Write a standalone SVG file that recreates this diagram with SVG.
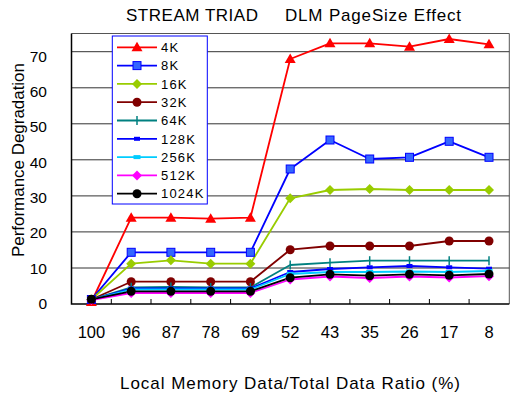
<svg xmlns="http://www.w3.org/2000/svg" width="510" height="399" viewBox="0 0 510 399">
<style>
text{font-family:"Liberation Sans",Arial,sans-serif;fill:#000}
.t{font-size:17px}
.yl{font-size:15.5px;text-anchor:end}
.xl{font-size:16.5px;text-anchor:middle}
.lg{font-size:13px;letter-spacing:1.2px}
.grid{stroke:#333;stroke-width:1}
.s{fill:none;stroke-width:1.8;stroke-linejoin:round}
</style>
<defs>
<polygon id="tri" points="0,-5.5 5.5,4 -5.5,4" fill="#f00"/>
<rect id="sq" x="-4" y="-4" width="8" height="8" fill="#3366ff" stroke="#0000ff" stroke-width="1"/>
<polygon id="dg" points="0,-5 5,0 0,5 -5,0" fill="#99cc00"/>
<circle id="cr" r="4.5" fill="#800000"/>
<path id="pl" d="M0,-4.5V4.5" stroke="#008080" stroke-width="1.5"/>
<rect id="b128" x="-3" y="-2" width="6" height="4" fill="#0000ff"/>
<rect id="b256" x="-3.5" y="-2" width="7" height="4" fill="#00ccff"/>
<polygon id="dm" points="0,-5 5,0 0,5 -5,0" fill="#ff00ff"/>
<circle id="cb" r="4.5" fill="#000"/>
</defs>
<rect width="510" height="399" fill="#fff"/>
<g id="title">
<text class="t" x="126" y="20.7" textLength="132" lengthAdjust="spacing">STREAM TRIAD</text>
<text class="t" x="285" y="20.7" textLength="176" lengthAdjust="spacing">DLM PageSize Effect</text>
</g>
<g id="plot-frame">
<path d="M71.5,33.5H509.3V304" fill="none" stroke="#555" stroke-width="1"/>
<g class="grid">
<path d="M71.5,268H509.3M71.5,231.9H509.3M71.5,195.9H509.3M71.5,159.8H509.3M71.5,123.8H509.3M71.5,87.8H509.3M71.5,51.7H509.3"/>
</g>
<path d="M71.5,33.5V304H509.3" fill="none" stroke="#000" stroke-width="1.5"/>
<path d="M111.3,304v-5M151,304v-5M190.8,304v-5M230.6,304v-5M270.3,304v-5M310.1,304v-5M349.9,304v-5M389.6,304v-5M429.4,304v-5M469.1,304v-5" stroke="#000" stroke-width="1"/>
</g>
<g id="y-labels">
<text class="yl" x="47" y="309">0</text>
<text class="yl" x="47" y="273.7">10</text>
<text class="yl" x="47" y="238.3">20</text>
<text class="yl" x="47" y="203">30</text>
<text class="yl" x="47" y="167.7">40</text>
<text class="yl" x="47" y="132.3">50</text>
<text class="yl" x="47" y="97">60</text>
<text class="yl" x="47" y="61.7">70</text>
</g>
<g id="x-labels">
<text class="xl" x="91.4" y="338">100</text>
<text class="xl" x="131.2" y="338">96</text>
<text class="xl" x="170.9" y="338">87</text>
<text class="xl" x="210.7" y="338">78</text>
<text class="xl" x="250.4" y="338">69</text>
<text class="xl" x="290.2" y="338">52</text>
<text class="xl" x="330" y="338">43</text>
<text class="xl" x="369.7" y="338">35</text>
<text class="xl" x="409.5" y="338">26</text>
<text class="xl" x="449.2" y="338">17</text>
<text class="xl" x="489" y="338">8</text>
</g>
<g id="axis-titles">
<text class="t" x="120" y="389.3" textLength="340" lengthAdjust="spacing">Local Memory Data/Total Data Ratio (%)</text>
<text class="t" font-size="16.5" transform="translate(24,160) rotate(-90)" x="-97" y="0" textLength="194" lengthAdjust="spacing">Performance Degradation</text>
</g>
<g id="connectors">
<polyline id="s4k" class="s" stroke="#ff0000" points="91.4,302 131.2,217.7 170.9,217.7 210.7,218.7 250.4,217.7 290.2,59 330,43.3 369.7,43.3 409.5,46.7 449.2,39 489,44.3"/>
<polyline id="s8k" class="s" stroke="#0000ff" points="91.4,299.5 131.2,252.3 170.9,252.3 210.7,252.3 250.4,252.3 290.2,169 330,140 369.7,159 409.5,157.3 449.2,141.3 489,157.3"/>
<polyline id="s16k" class="s" stroke="#99cc00" points="91.4,299.5 131.2,263.7 170.9,260.3 210.7,263.7 250.4,263.7 290.2,198.3 330,190 369.7,189 409.5,190 449.2,190 489,190"/>
<polyline id="s32k" class="s" stroke="#800000" points="91.4,299.5 131.2,281.7 170.9,281.7 210.7,281.7 250.4,281.7 290.2,249.7 330,246 369.7,246 409.5,246 449.2,241 489,241"/>
<polyline id="s64k" class="s" stroke="#008080" points="91.4,299.5 131.2,287.3 170.9,287 210.7,287.5 250.4,287.5 290.2,265 330,262.7 369.7,260.7 409.5,260.7 449.2,260.7 489,260.7"/>
<polyline id="s128k" class="s" stroke="#0000ff" points="91.4,299.5 131.2,288.5 170.9,288.5 210.7,288.5 250.4,288.5 290.2,272 330,269 369.7,267.3 409.5,266 449.2,267.3 489,268.7"/>
<polyline id="s256k" class="s" stroke="#00ccff" points="91.4,299.5 131.2,289.5 170.9,289.5 210.7,289.5 250.4,289.5 290.2,274 330,272 369.7,272 409.5,271.5 449.2,272 489,271"/>
<polyline id="s512k" class="s" stroke="#ff00ff" points="91.4,300 131.2,293 170.9,293 210.7,293 250.4,293 290.2,279.5 330,276.5 369.7,278 409.5,276.5 449.2,277.5 489,276.2"/>
<polyline id="s1024k" class="s" stroke="#000000" points="91.4,299.3 131.2,291.3 170.9,291.3 210.7,291.3 250.4,291.3 290.2,277.7 330,274.3 369.7,275.7 409.5,274.3 449.2,275.3 489,274"/>
</g>
<g id="markers">
<g id="m4k"><use href="#tri" x="91.4" y="302"/><use href="#tri" x="131.2" y="217.7"/><use href="#tri" x="170.9" y="217.7"/><use href="#tri" x="210.7" y="218.7"/><use href="#tri" x="250.4" y="217.7"/><use href="#tri" x="290.2" y="59"/><use href="#tri" x="330" y="43.3"/><use href="#tri" x="369.7" y="43.3"/><use href="#tri" x="409.5" y="46.7"/><use href="#tri" x="449.2" y="39"/><use href="#tri" x="489" y="44.3"/></g>
<g id="m8k"><use href="#sq" x="91.4" y="299.5"/><use href="#sq" x="131.2" y="252.3"/><use href="#sq" x="170.9" y="252.3"/><use href="#sq" x="210.7" y="252.3"/><use href="#sq" x="250.4" y="252.3"/><use href="#sq" x="290.2" y="169"/><use href="#sq" x="330" y="140"/><use href="#sq" x="369.7" y="159"/><use href="#sq" x="409.5" y="157.3"/><use href="#sq" x="449.2" y="141.3"/><use href="#sq" x="489" y="157.3"/></g>
<g id="m16k"><use href="#dg" x="91.4" y="299.5"/><use href="#dg" x="131.2" y="263.7"/><use href="#dg" x="170.9" y="260.3"/><use href="#dg" x="210.7" y="263.7"/><use href="#dg" x="250.4" y="263.7"/><use href="#dg" x="290.2" y="198.3"/><use href="#dg" x="330" y="190"/><use href="#dg" x="369.7" y="189"/><use href="#dg" x="409.5" y="190"/><use href="#dg" x="449.2" y="190"/><use href="#dg" x="489" y="190"/></g>
<g id="m32k"><use href="#cr" x="91.4" y="299.5"/><use href="#cr" x="131.2" y="281.7"/><use href="#cr" x="170.9" y="281.7"/><use href="#cr" x="210.7" y="281.7"/><use href="#cr" x="250.4" y="281.7"/><use href="#cr" x="290.2" y="249.7"/><use href="#cr" x="330" y="246"/><use href="#cr" x="369.7" y="246"/><use href="#cr" x="409.5" y="246"/><use href="#cr" x="449.2" y="241"/><use href="#cr" x="489" y="241"/></g>
<g id="m64k"><use href="#pl" x="91.4" y="299.5"/><use href="#pl" x="131.2" y="287.3"/><use href="#pl" x="170.9" y="287"/><use href="#pl" x="210.7" y="287.5"/><use href="#pl" x="250.4" y="287.5"/><use href="#pl" x="290.2" y="265"/><use href="#pl" x="330" y="262.7"/><use href="#pl" x="369.7" y="260.7"/><use href="#pl" x="409.5" y="260.7"/><use href="#pl" x="449.2" y="260.7"/><use href="#pl" x="489" y="260.7"/></g>
<g id="m128k"><use href="#b128" x="131.2" y="288.5"/><use href="#b128" x="170.9" y="288.5"/><use href="#b128" x="210.7" y="288.5"/><use href="#b128" x="250.4" y="288.5"/><use href="#b128" x="290.2" y="272"/><use href="#b128" x="330" y="269"/><use href="#b128" x="369.7" y="267.3"/><use href="#b128" x="409.5" y="266"/><use href="#b128" x="449.2" y="267.3"/><use href="#b128" x="489" y="268.7"/></g>
<g id="m256k"><use href="#b256" x="131.2" y="289.5"/><use href="#b256" x="170.9" y="289.5"/><use href="#b256" x="210.7" y="289.5"/><use href="#b256" x="250.4" y="289.5"/><use href="#b256" x="290.2" y="274"/><use href="#b256" x="330" y="272"/><use href="#b256" x="369.7" y="272"/><use href="#b256" x="409.5" y="271.5"/><use href="#b256" x="449.2" y="272"/><use href="#b256" x="489" y="271"/></g>
<g id="m512k"><use href="#dm" x="91.4" y="300"/><use href="#dm" x="131.2" y="293"/><use href="#dm" x="170.9" y="293"/><use href="#dm" x="210.7" y="293"/><use href="#dm" x="250.4" y="293"/><use href="#dm" x="290.2" y="279.5"/><use href="#dm" x="330" y="276.5"/><use href="#dm" x="369.7" y="278"/><use href="#dm" x="409.5" y="276.5"/><use href="#dm" x="449.2" y="277.5"/><use href="#dm" x="489" y="276.2"/></g>
<g id="m1024k"><use href="#cb" x="91.4" y="299.3"/><use href="#cb" x="131.2" y="291.3"/><use href="#cb" x="170.9" y="291.3"/><use href="#cb" x="210.7" y="291.3"/><use href="#cb" x="250.4" y="291.3"/><use href="#cb" x="290.2" y="277.7"/><use href="#cb" x="330" y="274.3"/><use href="#cb" x="369.7" y="275.7"/><use href="#cb" x="409.5" y="274.3"/><use href="#cb" x="449.2" y="275.3"/><use href="#cb" x="489" y="274"/></g>
</g>
<g id="legend">
<rect x="112.3" y="36" width="95" height="168" fill="#fff" stroke="#0000ff" stroke-width="1"/>
<g id="lg4k"><path d="M117,47.3H157" stroke="#ff0000" stroke-width="1.8"/><use href="#tri" x="137" y="47.3"/><text class="lg" x="161" y="52">4K</text></g>
<g id="lg8k"><path d="M117,65.6H157" stroke="#0000ff" stroke-width="1.8"/><use href="#sq" x="137" y="65.6"/><text class="lg" x="161" y="70.3">8K</text></g>
<g id="lg16k"><path d="M117,83.9H157" stroke="#99cc00" stroke-width="1.8"/><use href="#dg" x="137" y="83.9"/><text class="lg" x="161" y="88.6">16K</text></g>
<g id="lg32k"><path d="M117,102.2H157" stroke="#800000" stroke-width="1.8"/><use href="#cr" x="137" y="102.2"/><text class="lg" x="161" y="106.9">32K</text></g>
<g id="lg64k"><path d="M117,120.5H157" stroke="#008080" stroke-width="1.8"/><use href="#pl" x="137" y="120.5"/><text class="lg" x="161" y="125.2">64K</text></g>
<g id="lg128k"><path d="M117,138.8H157" stroke="#0000ff" stroke-width="1.8"/><use href="#b128" x="137" y="138.8"/><text class="lg" x="161" y="143.5">128K</text></g>
<g id="lg256k"><path d="M117,157.1H157" stroke="#00ccff" stroke-width="1.8"/><use href="#b256" x="137" y="157.1"/><text class="lg" x="161" y="161.8">256K</text></g>
<g id="lg512k"><path d="M117,175.4H157" stroke="#ff00ff" stroke-width="1.8"/><use href="#dm" x="137" y="175.4"/><text class="lg" x="161" y="180.1">512K</text></g>
<g id="lg1024k"><path d="M117,193.7H157" stroke="#000000" stroke-width="1.8"/><use href="#cb" x="137" y="193.7"/><text class="lg" x="161" y="198.4">1024K</text></g>
</g>
</svg>
